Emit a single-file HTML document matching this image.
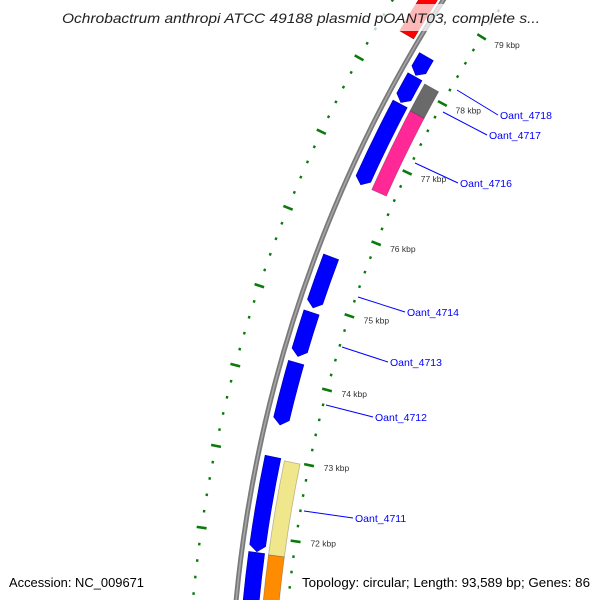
<!DOCTYPE html>
<html><head><meta charset="utf-8">
<style>
html,body{margin:0;padding:0;background:#fff;width:600px;height:600px;overflow:hidden;}
svg{display:block;font-family:"Liberation Sans","DejaVu Sans",sans-serif;}
</style></head>
<body>
<svg id="map" width="600" height="600" viewBox="0 0 600 600" xmlns="http://www.w3.org/2000/svg">
<g id="ticks"></g>
<g id="genes"></g>
<g id="labels"></g>
<rect x="55" y="4" width="490" height="27" fill="#fff" fill-opacity="0.72"/>
<text x="62" y="23" textLength="478" lengthAdjust="spacingAndGlyphs" font-size="14" font-style="italic" fill="#222">Ochrobactrum anthropi ATCC 49188 plasmid pOANT03, complete s...</text>
<rect x="5" y="572" width="142" height="22" fill="#fff" fill-opacity="0.8"/>
<text x="9" y="587" textLength="135" lengthAdjust="spacingAndGlyphs" font-size="12.5" fill="#000">Accession: NC_009671</text>
<rect x="298" y="572" width="298" height="22" fill="#fff" fill-opacity="0.8"/>
<text x="302" y="587" textLength="288" lengthAdjust="spacingAndGlyphs" font-size="12.5" fill="#000">Topology: circular; Length: 93,589 bp; Genes: 86</text>
</svg>
<script>
// ---- data (kbp positions) ----
const revGeneStarts = [78.15, 77.76, 76.61, 74.95, 74.31, 73.42, 71.80, 70.2];
const revGeneEnds   = [78.42, 78.13, 77.74, 75.63, 74.89, 74.23, 73.01, 71.79];
const revGeneNames  = ["Oant_4718","Oant_4717","Oant_4716","Oant_4714","Oant_4713","Oant_4712","Oant_4711","Oant_4710"];
const fwdGeneStarts = [78.53];
const fwdGeneEnds   = [81.0];
const cogStarts = [77.72, 76.61, 71.78, 70.2];
const cogEnds   = [78.11, 77.72, 72.99, 71.78];
const cogColors = ["#6a6a6a", "#ff2896", "#f0e68c", "#ff8c00"];
const tickLabels = [72, 73, 74, 75, 76, 77, 78, 79];
const labelNames = ["Oant_4718","Oant_4717","Oant_4716","Oant_4714","Oant_4713","Oant_4712","Oant_4711"];
const labelLineFrom = [[457,90],[443,112],[415,163],[358,297],[342,347],[326,405],[304,511]];
const labelLineTo = [[498,115],[487,135],[458,183],[405,312],[388,362],[373,417],[353,518]];

// ---- geometry ----
const CX = 1582, CY = 729;
const A0 = 188.3, DEG_PER_KBP = 3.41;
function ang(k){ return (A0 + (k - 72) * DEG_PER_KBP) * Math.PI / 180; }
function pt(r, k){ const a = ang(k); return [CX + r * Math.cos(a), CY + r * Math.sin(a)]; }
const NS = "http://www.w3.org/2000/svg";
function mk(tag, attrs, parent){
  const el = document.createElementNS(NS, tag);
  for (const k in attrs) el.setAttribute(k, attrs[k]);
  parent.appendChild(el); return el;
}
const f = v => v.toFixed(2);
function arcPath(r, k1, k2){
  const p1 = pt(r, k1), p2 = pt(r, k2);
  return `M${f(p1[0])},${f(p1[1])} A${r},${r} 0 0 1 ${f(p2[0])},${f(p2[1])}`;
}
function geneShape(r1, r2, s, e, dir){
  const head = 0.08, rm = (r1 + r2) / 2;
  let s2 = s, e2 = e;
  if (dir < 0) s2 = Math.min(e, s + head);
  if (dir > 0) e2 = Math.max(s, e - head);
  const o1 = pt(r2, s2), o2 = pt(r2, e2), i2 = pt(r1, e2), i1 = pt(r1, s2);
  let d = `M${f(o1[0])},${f(o1[1])} A${r2},${r2} 0 0 1 ${f(o2[0])},${f(o2[1])}`;
  if (dir > 0){ const t = pt(rm, e); d += ` L${f(t[0])},${f(t[1])}`; }
  d += ` L${f(i2[0])},${f(i2[1])} A${r1},${r1} 0 0 0 ${f(i1[0])},${f(i1[1])}`;
  if (dir < 0){ const t = pt(rm, s); d += ` L${f(t[0])},${f(t[1])}`; }
  return d + " Z";
}

const gT = document.getElementById("ticks");
const gG = document.getElementById("genes");
const gL = document.getElementById("labels");

const bb = mk("path", {d: arcPath(1352, 69, 82), fill: "none", stroke: "#7a7a7a", "stroke-width": 5}, gG);


const bb2 = mk("path", {d: arcPath(1352, 69, 82), fill: "none", stroke: "#a8a8a8", "stroke-width": 1.5}, gG);



for (let i = 0; i <= 70; i++){
  const k = 69 + i * 0.2;
  const major = (i % 5 === 0);
  const rings = [[1300, major ? 5 : 1.2], [1395, major ? 5 : 1.2]];
  rings.forEach(([r, h], j) => {
    const a = pt(r - h, k), b = pt(r + h, k);
    const t = mk("line", {x1: f(a[0]), y1: f(a[1]), x2: f(b[0]), y2: f(b[1]), stroke: "#0a7a0a", "stroke-width": 2.6}, gT);
    
    
  });
}
tickLabels.forEach(k => {
  const p = pt(1285, k);
  const t = mk("text", {x: f(p[0]), y: f(p[1] + 3), "font-size": 8.5, fill: "#333"}, gT);
  t.textContent = k + " kbp";
  
  
});

revGeneStarts.forEach((s, i) => {
  const p = mk("path", {d: geneShape(1329, 1345, s, revGeneEnds[i], -1), fill: "#0000ff", stroke: "#0000b0", "stroke-width": 0.6}, gG);
  
  
});
fwdGeneStarts.forEach((s, i) => {
  const p = mk("path", {d: geneShape(1357, 1373, s, fwdGeneEnds[i], 1), fill: "#ff0000", stroke: "#b00000", "stroke-width": 0.6}, gG);
  
  
});
cogStarts.forEach((s, i) => {
  const p = mk("path", {d: geneShape(1309, 1325, s, cogEnds[i], 0), fill: cogColors[i], stroke: "rgba(0,0,0,0.25)", "stroke-width": 0.8}, gG);
  
  
});

labelNames.forEach((n, i) => {
  const a = labelLineFrom[i], b = labelLineTo[i];
  const l = mk("line", {x1: a[0], y1: a[1], x2: b[0], y2: b[1], stroke: "#0000ff", "stroke-width": 1}, gL);
  
  
  const t = mk("text", {x: b[0] + 2, y: b[1] + 4, "font-size": 10.5, fill: "#0000ff"}, gL);
  t.textContent = n;
  
  
});
</script>
</body></html>
